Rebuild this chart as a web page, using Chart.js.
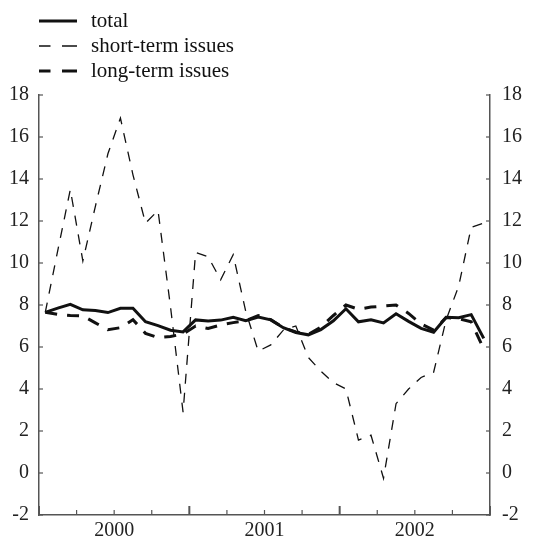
<!DOCTYPE html>
<html>
<head>
<meta charset="utf-8">
<script src="https://cdn.jsdelivr.net/npm/chart.js@4"></script>
<style>
html,body{margin:0;padding:0;background:#fff;}
canvas{display:block;}
</style>
</head>
<body>
<canvas id="c" width="533" height="540" style="width:533px;height:540px"></canvas>
<script>
// ---- data ----
const years = ['2000', '2001', '2002'];
const monthNames = ['01','02','03','04','05','06','07','08','09','10','11','12'];
const months = years.flatMap(y => monthNames.map(m => y + '-' + m));

const seriesNames = ['total', 'short-term issues', 'long-term issues'];

const total = [7.65, 7.85, 8.03, 7.77, 7.74, 7.64, 7.84, 7.85, 7.20, 7.02, 6.80, 6.72,
               7.29, 7.24, 7.28, 7.41, 7.25, 7.43, 7.29, 6.92, 6.69, 6.58, 6.83, 7.25,
               7.82, 7.20, 7.30, 7.15, 7.58, 7.22, 6.89, 6.70, 7.42, 7.39, 7.54, 6.41];

const shortTerm = [7.65, 10.6, 13.5, 10.1, 12.7, 15.2, 16.9, 14.2, 11.9, 12.5, 7.9, 2.9,
                   10.5, 10.3, 9.2, 10.4, 7.7, 5.8, 6.1, 6.8, 7.0, 5.5, 4.85, 4.3,
                   4.0, 1.57, 1.8, -0.25, 3.3, 4.0, 4.55, 4.8, 7.3, 8.9, 11.7, 11.9];

const longTerm = [7.65, 7.55, 7.50, 7.48, 7.15, 6.82, 6.92, 7.30, 6.65, 6.45, 6.50, 6.62,
                  7.00, 6.88, 7.05, 7.16, 7.25, 7.50, 7.30, 6.92, 6.72, 6.60, 6.95, 7.50,
                  8.00, 7.80, 7.90, 7.95, 8.00, 7.60, 7.10, 6.80, 7.40, 7.35, 7.20, 5.90];

const yMin = -2, yMax = 18, yStep = 2;

// ---- styles ----
const FONT = '"Liberation Serif", "Times New Roman", Times, serif';
const INK = '#111111';
const AXIS = '#555555';
const TEXT = '#222222';

const toPoints = arr => arr.map((v, i) => ({ x: i + 0.5, y: v }));

const innerTicks = {
  id: 'innerTicks',
  afterDraw(chart) {
    const ctx = chart.ctx, a = chart.chartArea;
    ctx.save();
    ctx.strokeStyle = AXIS;
    const xs = chart.scales.x;
    xs.ticks.forEach(t => {
      const px = xs.getPixelForValue(t.value);
      const major = t.value % 12 === 0;
      ctx.lineWidth = major ? 2 : 1.2;
      ctx.beginPath();
      ctx.moveTo(px, a.bottom);
      ctx.lineTo(px, a.bottom - (major ? 9 : 5));
      ctx.stroke();
    });
    ['y', 'y2'].forEach(id => {
      const s = chart.scales[id];
      const x0 = id === 'y' ? a.left : a.right;
      const dir = id === 'y' ? 1 : -1;
      s.ticks.forEach(t => {
        const py = s.getPixelForValue(t.value);
        ctx.lineWidth = 1.2;
        ctx.beginPath();
        ctx.moveTo(x0, py);
        ctx.lineTo(x0 + dir * 4, py);
        ctx.stroke();
      });
    });
    ctx.restore();
  }
};

const seriesLegend = {
  id: 'seriesLegend',
  afterDraw(chart) {
    const ctx = chart.ctx;
    chart.data.datasets.forEach((ds, i) => {
      const y = 21 + i * 25;
      ctx.save();
      ctx.strokeStyle = ds.borderColor;
      ctx.lineWidth = ds.borderWidth;
      ctx.lineCap = 'butt';
      ctx.beginPath();
      if (ds.borderDash && ds.borderDash.length) {
        ctx.moveTo(39, y); ctx.lineTo(50.5, y);
        ctx.moveTo(62, y); ctx.lineTo(77, y);
      } else {
        ctx.moveTo(39, y); ctx.lineTo(77, y);
      }
      ctx.stroke();
      ctx.fillStyle = INK;
      ctx.font = '21px ' + FONT;
      ctx.textBaseline = 'alphabetic';
      ctx.textAlign = 'left';
      ctx.fillText(ds.label, 91, y + 6);
      ctx.restore();
    });
  }
};

const yAxis = (pos, width, pad) => ({
  type: 'linear',
  position: pos,
  min: yMin, max: yMax,
  ticks: { stepSize: yStep, padding: pad, color: TEXT, font: { family: FONT, size: 20 } },
  grid: { display: false, drawTicks: false },
  border: { display: true, color: AXIS, width: 1.5 },
  afterFit: s => { s.width = width; }
});

new Chart(document.getElementById('c'), {
  type: 'line',
  data: {
    datasets: [
      { label: seriesNames[0], data: toPoints(total), borderColor: INK, borderWidth: 3, pointRadius: 0, tension: 0, fill: false },
      { label: seriesNames[1], data: toPoints(shortTerm), borderColor: INK, borderWidth: 1.3, borderDash: [10, 9], pointRadius: 0, tension: 0, fill: false },
      { label: seriesNames[2], data: toPoints(longTerm), borderColor: INK, borderWidth: 3, borderDash: [12, 10], pointRadius: 0, tension: 0, fill: false }
    ]
  },
  options: {
    responsive: false,
    devicePixelRatio: 1,
    animation: false,
    layout: { padding: { top: 95, left: 0, right: 0, bottom: 0 } },
    plugins: { legend: { display: false }, tooltip: { enabled: false } },
    scales: {
      x: {
        type: 'linear',
        min: 0, max: months.length,
        ticks: {
          stepSize: 3, autoSkip: false, maxRotation: 0, padding: 4,
          color: TEXT, font: { family: FONT, size: 20 },
          callback: v => (v % 12 === 6 ? years[(v - 6) / 12] : '')
        },
        grid: { display: false, drawTicks: false },
        border: { display: true, color: AXIS, width: 1.5 },
        afterFit: s => { s.height = 25; }
      },
      y: yAxis('left', 39, 10),
      y2: yAxis('right', 43, 12)
    }
  },
  plugins: [innerTicks, seriesLegend]
});
</script>
</body>
</html>
